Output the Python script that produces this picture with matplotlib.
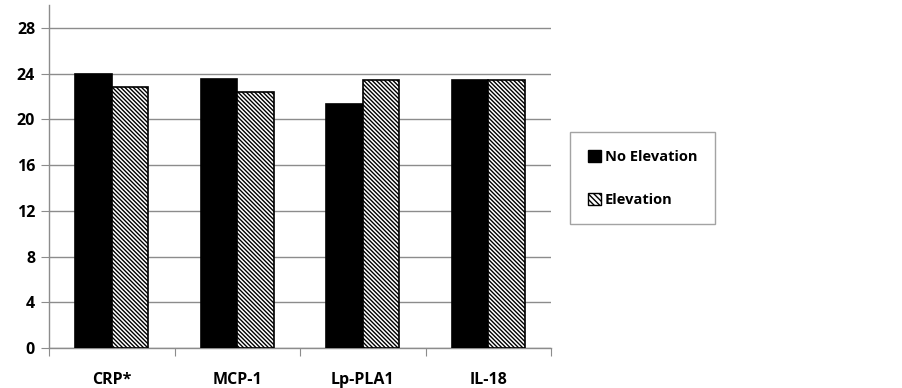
import matplotlib
matplotlib.use("Agg")
import matplotlib.pyplot as plt
import numpy as np
from matplotlib.patches import Patch

categories = ["CRP*", "MCP-1", "Lp-PLA1", "IL-18"]
no_elevation = [24.0, 23.5, 21.3, 23.4]
elevation = [22.8, 22.4, 23.4, 23.4]
yticks = [0, 4, 8, 12, 16, 20, 24, 28]

plt.rcParams['font.family'] = ['Open Sans', 'DejaVu Sans']
plt.rcParams['hatch.linewidth'] = 1.0

fig = plt.figure(figsize=(9.03, 3.88), dpi=100)
ax = fig.add_axes([49/903, 40/388, (551-49)/903, (348-5)/388])

x = np.arange(len(categories))
w = 0.29
ax.bar(x - w/2, no_elevation, w, color="black", edgecolor="black", linewidth=1.2, zorder=3)
ax.bar(x + w/2, elevation, w, color="white", edgecolor="black", hatch="\\" * 8, linewidth=1.2, zorder=3)

ax.set_xlim(-0.5, len(categories) - 0.5)
ax.set_ylim(0, 30)
ax.set_yticks(yticks)
ax.set_yticklabels([str(v) for v in yticks], fontsize=11.5, fontweight="bold")
ax.yaxis.grid(True, color="#8c8c8c", linewidth=1.0, zorder=0)
ax.set_axisbelow(True)

ax.set_xticks(np.arange(len(categories) + 1) - 0.5, minor=False)
ax.set_xticklabels([])
ax.set_xticks(x, minor=True)
ax.set_xticklabels(categories, minor=True, fontsize=11.5, fontweight="bold")
ax.tick_params(axis="x", which="major", length=6, color="#8c8c8c", direction="out")
ax.tick_params(axis="x", which="minor", length=0, pad=17)
ax.tick_params(axis="y", length=6, color="#8c8c8c", pad=4)

for s in ["top", "right"]:
    ax.spines[s].set_visible(False)
for s in ["left", "bottom"]:
    ax.spines[s].set_color("#8c8c8c")
    ax.spines[s].set_linewidth(1.0)

handles = [Patch(facecolor="black", edgecolor="black"),
           Patch(facecolor="white", edgecolor="black", hatch="\\" * 6)]
leg = fig.legend(handles, ["No Elevation", "Elevation"], loc="upper left",
                 bbox_to_anchor=(570/903, 1 - 132/388), frameon=True, fancybox=False,
                 prop={"weight": "bold", "size": 10.5}, handlelength=0.9, handleheight=0.9,
                 handletextpad=0.3, labelspacing=2.0, borderpad=1.2, borderaxespad=0)
leg.get_frame().set_edgecolor("#8c8c8c")
leg.get_frame().set_linewidth(1.0)

fig.savefig("out.png", dpi=100)
